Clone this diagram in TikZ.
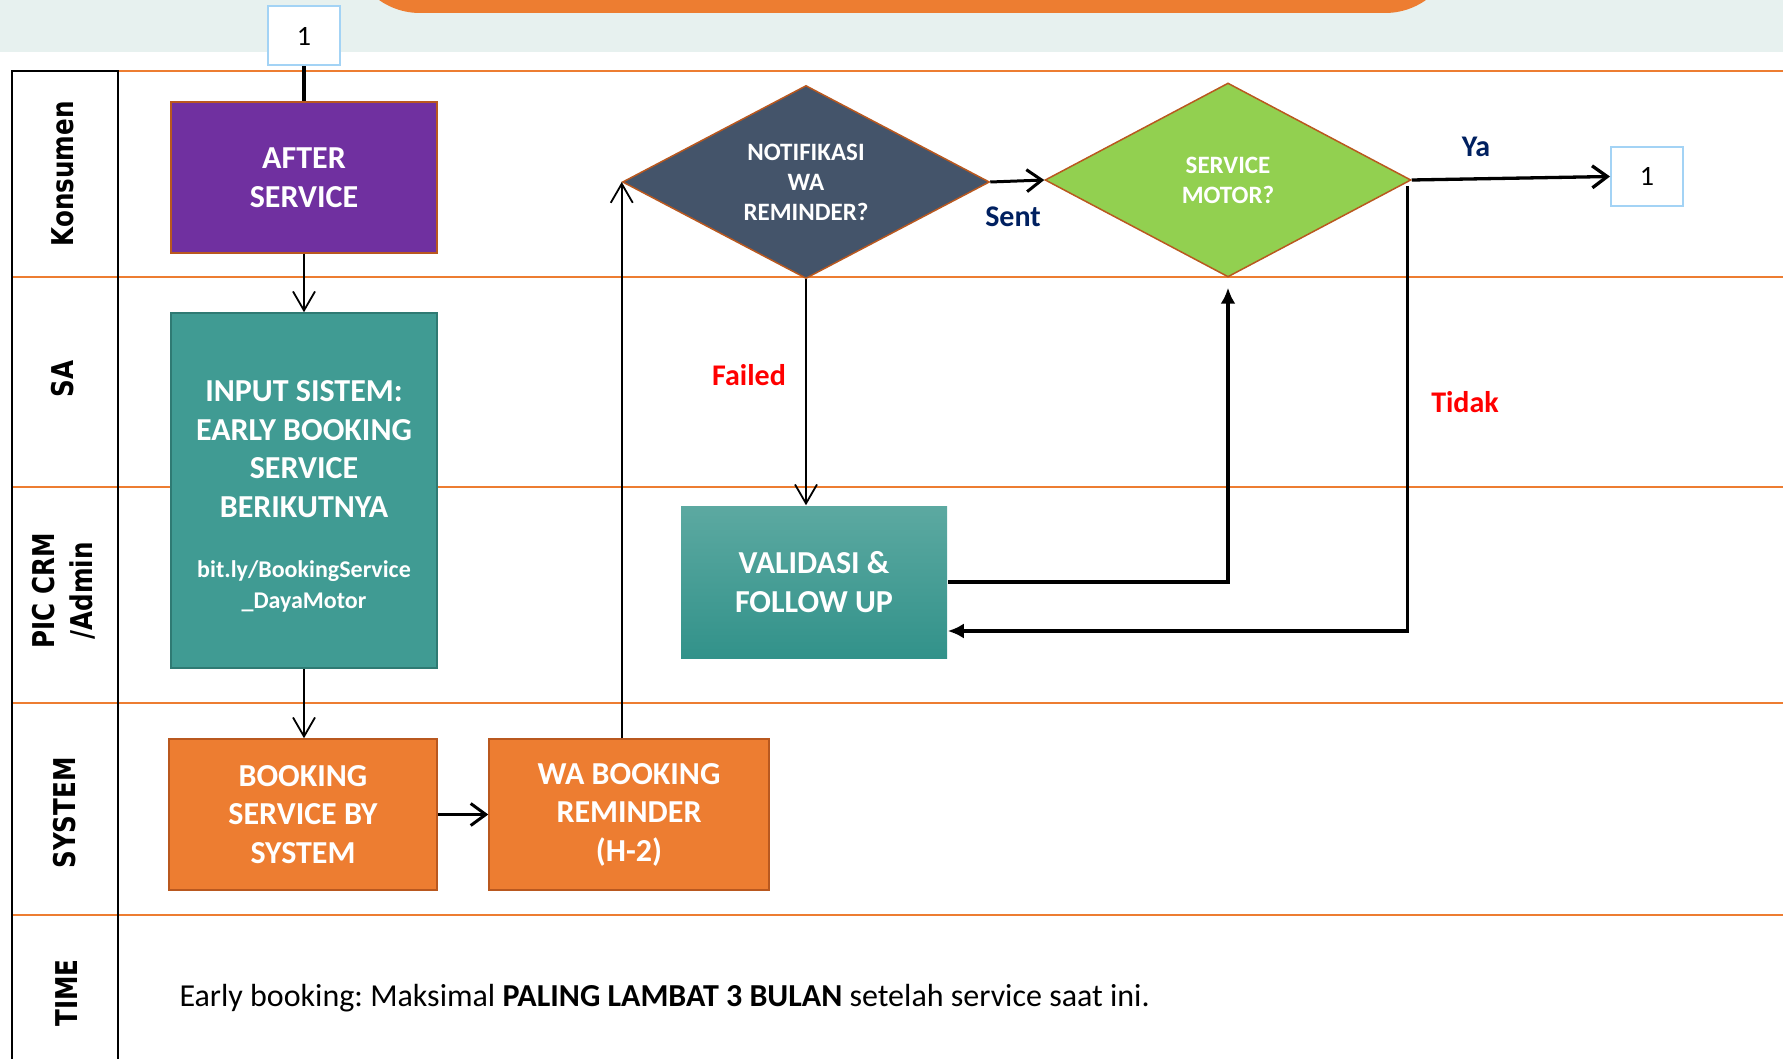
\documentclass[tikz,border=0pt]{standalone}
\usepackage{fontspec}
\setmainfont{Carlito}
\newfontfamily\lanefont{DejaVu Sans}[FakeStretch=0.82]
\usetikzlibrary{shapes.geometric,arrows.meta}

\definecolor{laneorange}{HTML}{ED7D31}
\definecolor{bandgray}{HTML}{E7F1EF}
\definecolor{boxedge}{HTML}{B9581F}
\definecolor{purplebox}{HTML}{7030A0}
\definecolor{tealbox}{HTML}{409B93}
\definecolor{tealedge}{HTML}{2F7A73}
\definecolor{orangebox}{HTML}{ED7D31}
\definecolor{slatebox}{HTML}{44546A}
\definecolor{greenbox}{HTML}{92D050}
\definecolor{validtop}{HTML}{5CA9A1}
\definecolor{validbot}{HTML}{32928A}
\definecolor{refblue}{HTML}{A3D3F5}
\definecolor{navytext}{HTML}{002060}

\begin{document}
\frenchspacing
\begin{tikzpicture}[x=1pt,y=-1pt,
    box/.style={rectangle,draw=boxedge,line width=1.5pt,text=white,align=center,inner sep=0pt,
      font=\fontsize{32}{38.5}\selectfont\bfseries},
    decision/.style={diamond,shape aspect=2,draw=boxedge,line width=1.5pt,text=white,align=center,inner sep=0pt,
      font=\fontsize{25}{30}\selectfont\bfseries},
    pageref/.style={rectangle,draw=refblue,line width=2pt,fill=white,minimum width=72pt,minimum height=59pt,
      font=\fontsize{28}{28}\selectfont},
    lanelabel/.style={rotate=90,align=center,font=\lanefont\fontsize{30}{38}\selectfont\bfseries},
    laneline/.style={laneorange,line width=1.5pt},
    answer/.style={font=\fontsize{30}{30}\selectfont\bfseries},
    flow/.style={line width=1.8pt,-{Straight Barb[length=19pt,width=22pt]}},
    flowmid/.style={line width=3pt,-{Straight Barb[length=15pt,width=22pt]}},
    flowbold/.style={line width=3.3pt,-{Straight Barb[length=15pt,width=22pt]}},
    loopback/.style={line width=3.3pt,-{Latex[length=16pt,width=15pt]}},
    plainbold/.style={line width=3.5pt}
  ]
  \useasboundingbox (0,0) rectangle (1783,1059);

  % top band
  \fill[bandgray] (0,0) rectangle (1783,52);
  \begin{scope}
    \clip (0,0) rectangle (1783,1059);
    \fill[laneorange,rounded corners=71pt] (349,-200) rectangle (1456,13);
  \end{scope}

  % lanes
  \draw[laneline] (118,71) -- (1783,71);
  \foreach \y in {277,487,703,915}
    \draw[laneline] (12,\y) -- (1783,\y);
  \draw[line width=2pt] (12,1059) -- (12,71) -- (118,71) -- (118,1059);

  \node[lanelabel] (konsumen) at (63,174) {Konsumen};
  \node[lanelabel] (sa) at (63,379) {SA};
  \node[lanelabel] (piccrm) at (64,591) {PIC CRM\\/Admin};
  \node[lanelabel] (system) at (65,813) {SYSTEM};
  \node[lanelabel] (time) at (67,993) {TIME};

  % steps
  \node[pageref] (startref) at (304,36) {1};
  \node[box,fill=purplebox,minimum width=266pt,minimum height=151pt] (after) at (304,177.5) {AFTER\\SERVICE};
  \node[box,fill=tealbox,draw=tealedge,minimum width=266pt,minimum height=355pt] (input) at (304,490.5)
    {\rule{0pt}{33pt}INPUT SISTEM:\\EARLY BOOKING\\SERVICE\\BERIKUTNYA\\[22pt]
     \fontsize{24}{30}\selectfont bit.ly/BookingService\\[-8pt]
     \fontsize{24}{30}\selectfont\_DayaMotor};
  \node[box,fill=orangebox,minimum width=268pt,minimum height=151pt] (booking) at (303,814.5) {BOOKING\\SERVICE BY\\SYSTEM};
  \node[box,fill=orangebox,minimum width=280pt,minimum height=151pt] (waremind) at (629,814.5) {WA BOOKING\\REMINDER\\(H-2)};
  \node[decision,fill=slatebox,minimum width=367pt,minimum height=193pt] (notif) at (806,182) {NOTIFIKASI\\WA\\REMINDER?};
  \node[decision,fill=greenbox,minimum width=366pt,minimum height=194pt] (motor) at (1228,180) {SERVICE\\MOTOR?};
  \node[box,draw=none,top color=validtop,bottom color=validbot,minimum width=266pt,minimum height=152pt] (validasi) at (814,582)
    {VALIDASI \&\\FOLLOW UP};
  \node[pageref] (endref) at (1647,176.5) {1};

  % answers
  \node[answer,text=navytext] (sentlbl) at (1013,217) {Sent};
  \node[answer,text=navytext] (yalbl) at (1476,147) {Ya};
  \node[answer,text=red] (failedlbl) at (749,375) {Failed};
  \node[answer,text=red] (tidaklbl) at (1465,402) {Tidak};

  % connectors
  \draw[plainbold] (startref) -- (after);
  \draw[flow] (after) -- (input);
  \draw[flow] (input.south) -- (input.south |- booking.north);
  \draw[flowmid] (booking) -- (waremind);
  \draw[flow] (waremind.north -| notif.west) -- (notif.west);
  \draw[flowmid] (notif.east) -- (motor.west);
  \draw[flow] (notif.south) -- (notif.south |- validasi.north);
  \draw[loopback,shorten >=10pt] (validasi.east) -| (motor.south);
  \draw[flowbold] (motor.east) -- (endref.west);
  \draw[loopback] ([xshift=-4pt,yshift=-6pt]motor.east) |- ([yshift=-49pt]validasi.east);

  \node[anchor=west,font=\fontsize{32}{32}\selectfont] (timenote) at (176,998)
    {Early booking: Maksimal \textbf{PALING LAMBAT 3 BULAN} setelah service saat ini.};
\end{tikzpicture}
\end{document}
